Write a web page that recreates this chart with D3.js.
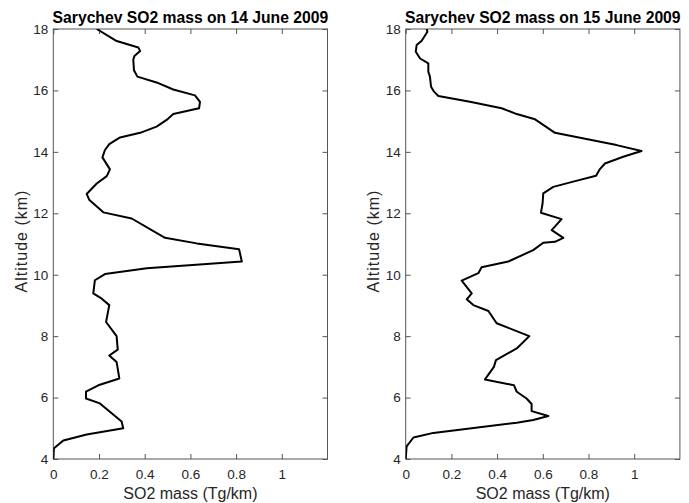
<!DOCTYPE html>
<html>
<head>
<meta charset="utf-8">
<title></title>
<script src="https://cdn.jsdelivr.net/npm/d3@7"></script>
<style>
  body { margin: 0; background: #fff; }
  svg { display: block; font-family: "Liberation Sans", Arial, sans-serif; }
</style>
</head>
<body>
<script>
  // profile 1: 14 June 2009 (altitude km, SO2 mass Tg/km)
  var alt14 = [18, 17.62, 17.4, 17.28, 17.12, 17.0, 16.66, 16.45, 16.26, 16.03, 15.84, 15.63, 15.42,
    15.23, 15.04, 14.82, 14.62, 14.47, 14.25, 14.06, 13.82, 13.43, 13.21, 12.97, 12.63, 12.43,
    12.03, 11.83, 11.2, 11.02, 10.83, 10.43, 10.21, 10.02, 9.82, 9.39, 9.22, 9.01, 8.46, 8.0,
    7.56, 7.37, 7.16, 6.62, 6.4, 6.19, 5.97, 5.81, 5.22, 5.0, 4.8, 4.6, 4.35, 4.0];
  var mass14 = [0.19, 0.274, 0.372, 0.38, 0.355, 0.35, 0.353, 0.368, 0.452, 0.525, 0.62, 0.642, 0.638,
    0.525, 0.496, 0.452, 0.38, 0.292, 0.245, 0.226, 0.215, 0.248, 0.234, 0.19, 0.146, 0.158,
    0.219, 0.343, 0.489, 0.628, 0.813, 0.825, 0.409, 0.226, 0.182, 0.175, 0.212, 0.245, 0.231, 0.277,
    0.282, 0.245, 0.277, 0.289, 0.197, 0.143, 0.143, 0.204, 0.299, 0.306, 0.146, 0.044, 0.003, 0];

  // profile 2: 15 June 2009
  var alt15 = [18, 17.91, 17.62, 17.48, 17.26, 17.04, 16.88, 16.61, 16.45, 16.12, 15.96, 15.82, 15.63,
    15.42, 15.23, 15.06, 14.84, 14.62, 14.22, 14.03, 13.84, 13.62, 13.44, 13.22, 13.03, 12.86,
    12.65, 12.32, 12.02, 11.81, 11.45, 11.2, 11.07, 11.04, 10.8, 10.43, 10.24, 10.05, 9.81, 9.39,
    9.2, 9.01, 8.82, 8.42, 8.0, 7.6, 7.22, 7.0, 6.59, 6.4, 6.19, 5.97, 5.79, 5.56, 5.4, 5.27,
    5.18, 4.85, 4.7, 4.41, 4.0];
  var mass15 = [0.092, 0.095, 0.07, 0.048, 0.044, 0.063, 0.099, 0.099, 0.106, 0.111, 0.124, 0.143, 0.281,
    0.42, 0.486, 0.566, 0.61, 0.653, 0.923, 1.032, 0.952, 0.872, 0.85, 0.833, 0.733, 0.646,
    0.602, 0.599, 0.592, 0.682, 0.639, 0.69, 0.653, 0.602, 0.558, 0.449, 0.332, 0.318, 0.245, 0.289,
    0.267, 0.296, 0.362, 0.398, 0.541, 0.486, 0.395, 0.386, 0.347, 0.474, 0.486, 0.529, 0.551, 0.551, 0.624, 0.558,
    0.486, 0.121, 0.034, 0.004, 0];

  var titles = ['Sarychev SO2 mass on 14 June 2009', 'Sarychev SO2 mass on 15 June 2009'];
  var xTicks = [0, 0.2, 0.4, 0.6, 0.8, 1];
  var yTicks = [4, 6, 8, 10, 12, 14, 16, 18];

  var width = 689, height = 503;
  var panels = [
    { left: 53.3, title: titles[0], alt: alt14, mass: mass14 },
    { left: 405.7, title: titles[1], alt: alt15, mass: mass15 }
  ];
  var axW = 274.2, axTop = 29, axBottom = 459;
  var axisColor = '#262626', boxColor = '#555';

  var svg = d3.select('body').append('svg')
    .attr('width', width)
    .attr('height', height);

  panels.forEach(function(p, k) {
    var x = d3.scaleLinear().domain([0, 1.2]).range([p.left, p.left + axW]);
    var y = d3.scaleLinear().domain([4, 18]).range([axBottom, axTop]);
    var g = svg.append('g');

    // box
    g.append('rect')
      .attr('x', x(0)).attr('y', axTop)
      .attr('width', axW).attr('height', axBottom - axTop)
      .attr('fill', 'none').attr('stroke', boxColor).attr('stroke-width', 1);

    // inward ticks, mirrored on top/right
    var xa = d3.axisBottom(x).tickValues(xTicks).tickSize(-5).tickPadding(10)
      .tickFormat(function(d) { return d === 1 ? '1' : d3.format('.1~f')(d); });
    var xg = g.append('g').attr('transform', 'translate(0,' + axBottom + ')').call(xa);
    var xt = g.append('g').attr('transform', 'translate(0,' + axTop + ')')
      .call(d3.axisTop(x).tickValues(xTicks).tickSize(-5).tickFormat(''));
    var ya = d3.axisLeft(y).tickValues(yTicks).tickSize(-5).tickPadding(5);
    var yg = g.append('g').attr('transform', 'translate(' + x(0) + ',0)').call(ya);
    var yr = g.append('g').attr('transform', 'translate(' + x(1.2) + ',0)')
      .call(d3.axisRight(y).tickValues(yTicks).tickSize(-5).tickFormat(''));

    [xg, xt, yg, yr].forEach(function(a) {
      a.select('.domain').remove();
      a.selectAll('line').attr('stroke', boxColor);
      a.selectAll('text').attr('fill', axisColor).style('font-size', '13.5px')
        .style('font-family', '"Liberation Sans", Arial, sans-serif');
    });

    // profile line
    var clipId = 'clip' + k;
    g.append('clipPath').attr('id', clipId).append('rect')
      .attr('x', x(0)).attr('y', axTop).attr('width', axW).attr('height', axBottom - axTop);
    var pts = p.alt.map(function(a, i) { return [p.mass[i], a]; });
    g.append('path')
      .datum(pts)
      .attr('clip-path', 'url(#' + clipId + ')')
      .attr('fill', 'none')
      .attr('stroke', '#000')
      .attr('stroke-width', 2)
      .attr('stroke-linejoin', 'round')
      .attr('d', d3.line()
        .x(function(d) { return x(d[0]); })
        .y(function(d) { return y(d[1]); }));

    // title
    g.append('text')
      .attr('x', (x(0) + x(1.2)) / 2)
      .attr('y', 22.5)
      .attr('text-anchor', 'middle')
      .style('font-size', '15.7px')
      .style('font-weight', 'bold')
      .attr('fill', '#000')
      .text(p.title);

    // axis labels
    g.append('text')
      .attr('x', (x(0) + x(1.2)) / 2)
      .attr('y', 498.5)
      .attr('text-anchor', 'middle')
      .style('font-size', '16px')
      .attr('fill', axisColor)
      .text('SO2 mass (Tg/km)');
    g.append('text')
      .attr('transform', 'translate(' + (p.left - 26.5) + ',' + 241 + ') rotate(-90)')
      .attr('text-anchor', 'middle')
      .style('font-size', '16px')
      .style('letter-spacing', '1px')
      .attr('fill', axisColor)
      .text('Altitude (km)');
  });
</script>
</body>
</html>
